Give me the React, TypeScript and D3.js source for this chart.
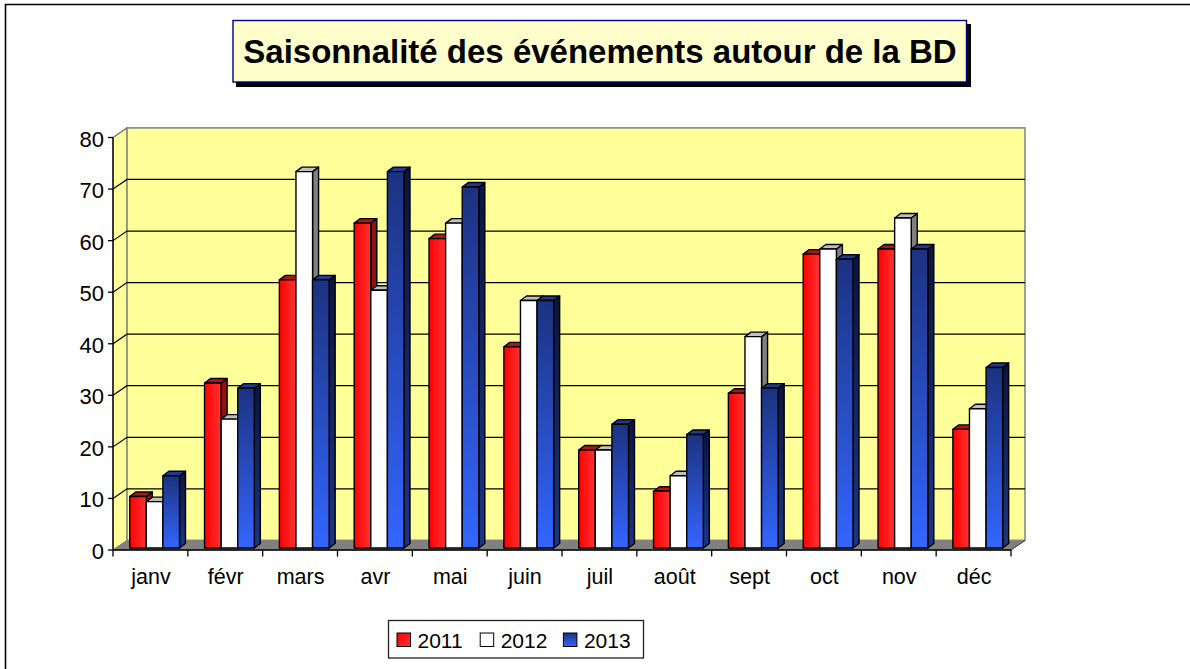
import React from "react";
import * as d3 from "d3";

const months = ["janv", "févr", "mars", "avr", "mai", "juin", "juil", "août", "sept", "oct", "nov", "déc"];
const s2011 = [10, 32, 52, 63, 60, 39, 19, 11, 30, 57, 58, 23];
const s2012 = [9, 25, 73, 50, 63, 48, 19, 14, 41, 58, 64, 27];
const s2013 = [14, 31, 52, 73, 70, 48, 24, 22, 31, 56, 58, 35];
const yTicks = [0, 10, 20, 30, 40, 50, 60, 70, 80];
const years = ["2011", "2012", "2013"];
const title = "Saisonnalité des événements autour de la BD";

const DX = 14, DY = 9.6;
const BW = 16.6, BDX = 6, BDY = 4.5;
const FONT = "'Liberation Sans', Arial, sans-serif";

const x = d3.scaleBand<string>().domain(months).range([113, 1011]).paddingInner(0).paddingOuter(0);
const y = d3.scaleLinear().domain([0, 80]).range([550, 137.5]);
const yBar = d3.scaleLinear().domain([0, 80]).range([548, 135.5]);
const pts = (p: number[][]) => p.map((q) => q.join(",")).join(" ");

const seriesList = [
  { name: "2011", values: s2011, face: "url(#gRed)", top: "#a81818", side: "#8f1212" },
  { name: "2012", values: s2012, face: "#ffffff", top: "#c0c0c0", side: "#808080" },
  { name: "2013", values: s2013, face: "url(#gBlue)", top: "#1f3a90", side: "url(#gBlueSide)" },
];

export default function App() {
  const x0 = x(months[0])!;
  const step = x.step();
  return (
    <svg width={1190} height={669} style={{ position: "absolute", left: 0, top: 0, background: "#fff" }} fontFamily={FONT}>
      <defs>
        <linearGradient id="gRed" x1="0" x2="1" y1="0" y2="0">
          <stop offset="0" stopColor="#ff0000" />
          <stop offset="1" stopColor="#ff3333" />
        </linearGradient>
        <linearGradient id="gBlue" x1="0" x2="0" y1="0" y2="1">
          <stop offset="0" stopColor="#1c3280" />
          <stop offset="1" stopColor="#3366ff" />
        </linearGradient>
        <linearGradient id="gBlueSide" x1="0" x2="0" y1="0" y2="1">
          <stop offset="0" stopColor="#0a1540" />
          <stop offset="1" stopColor="#1c3585" />
        </linearGradient>
        <linearGradient id="gLegRed" x1="0" x2="1" y1="0" y2="1">
          <stop offset="0" stopColor="#ff0000" />
          <stop offset="1" stopColor="#ff3333" />
        </linearGradient>
      </defs>
      {/* chart frame: only the top and left edges are inside the picture */}
      <polyline points={pts([[5.5, 669], [5.5, 4.5], [1190, 4.5]])} fill="none" stroke="#000" strokeWidth={1.6} />

      {/* title */}
      <rect x={236} y={24} width={735} height={63} fill="#000" />
      <rect x={233} y={20.5} width={733.5} height={61.5} fill="#ffffcc" stroke="#000080" strokeWidth={1.4} />
      <text x={600} y={63} textAnchor="middle" fontSize={33} fontWeight="bold" fill="#000">{title}</text>

      {/* walls and floor */}
      <polygon points={pts([[113, y(80)], [113 + DX, y(80) - DY], [113 + DX, y(0) - DY], [113, y(0)]])} fill="#ffff99" stroke="#808080" />
      <rect x={113 + DX} y={y(80) - DY} width={1011 - 113} height={y(0) - y(80)} fill="#ffff99" stroke="#808080" strokeWidth={1.5} />
      <polygon points={pts([[113, y(0)], [113 + DX, y(0) - DY], [1011 + DX, y(0) - DY], [1011, y(0)]])} fill="#808080" stroke="#808080" />

      {/* gridlines */}
      {yTicks.filter((t) => t > 0 && t < 80).map((t) => (
        <polyline key={t} points={pts([[113, y(t)], [113 + DX, y(t) - DY], [1011 + DX, y(t) - DY]])} fill="none" stroke="#000" strokeWidth={1.2} />
      ))}
      <line x1={113} y1={y(80)} x2={113 + DX} y2={y(80) - DY} stroke="#808080" strokeWidth={1.4} />

      {/* bars */}
      {months.map((m, i) => (
        <g key={m}>
          {seriesList.map((s, k) => {
            const left = x(m)! + 16.7 + k * BW;
            const right = left + BW;
            const top = yBar(s.values[i]);
            const base = yBar(0);
            return (
              <g key={s.name} stroke="#000" strokeWidth={1.4} strokeLinejoin="round">
                <polygon points={pts([[right, top], [right + BDX, top - BDY], [right + BDX, base - BDY], [right, base]])} fill={s.side} />
                <polygon points={pts([[left, top], [left + BDX, top - BDY], [right + BDX, top - BDY], [right, top]])} fill={s.top} />
                <rect x={left} y={top} width={BW} height={base - top} fill={s.face} />
              </g>
            );
          })}
        </g>
      ))}

      {/* axes */}
      <line x1={113} y1={y(0)} x2={1011} y2={y(0)} stroke="#000" strokeWidth={1.4} />
      <line x1={113} y1={y(0)} x2={113} y2={y(80)} stroke="#000" strokeWidth={1.4} />
      <line x1={1011} y1={y(0)} x2={1011 + DX} y2={y(0) - DY} stroke="#444" strokeWidth={1} />
      {yTicks.map((t) => (
        <g key={t}>
          <line x1={108} x2={113} y1={y(t)} y2={y(t)} stroke="#000" strokeWidth={1.3} />
          <text x={104} y={y(t) + 9} textAnchor="end" fontSize={22} fill="#000">{t}</text>
        </g>
      ))}
      {d3.range(13).map((i) => (
        <line key={i} x1={x0 + i * step} x2={x0 + i * step} y1={y(0)} y2={y(0) + 6.5} stroke="#000" strokeWidth={1.3} />
      ))}
      {months.map((m) => (
        <text key={m} x={x(m)! + step / 2 + 0.5} y={584} textAnchor="middle" fontSize={21.5} fill="#000">{m}</text>
      ))}

      {/* legend */}
      <rect x={388.5} y={620.5} width={255} height={37.5} fill="#fff" stroke="#222" strokeWidth={1.3} />
      {years.map((yr, k) => (
        <g key={yr}>
          <rect x={397 + k * 83.2} y={633} width={13.5} height={13.5} fill={["url(#gLegRed)", "#fff", "url(#gBlue)"][k]} stroke="#000" />
          <text x={417.5 + k * 83.2} y={648} fontSize={21} fill="#000">{yr}</text>
        </g>
      ))}
    </svg>
  );
}
